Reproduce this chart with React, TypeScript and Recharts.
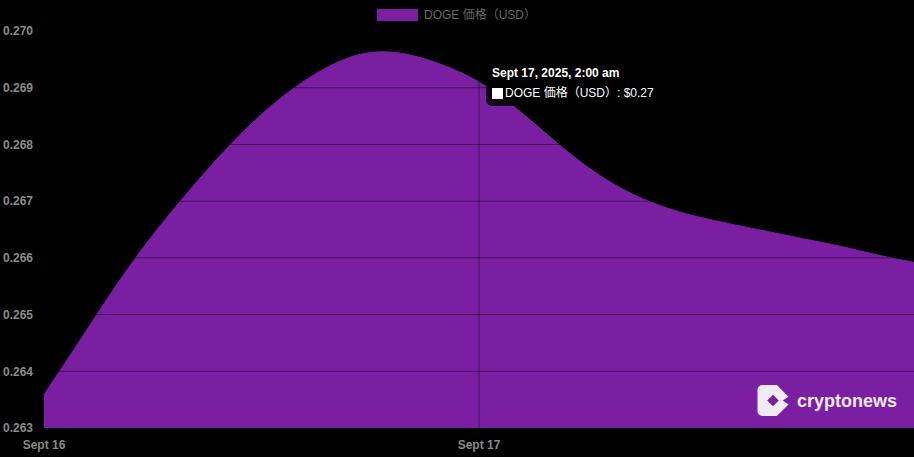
import React from 'react';
import { AreaChart, Area, XAxis, YAxis, Tooltip, ReferenceLine } from 'recharts';

// two-hourly DOGE price, Sept 16 02:00 -> Sept 18 02:00
const times = [
  'Sept 16, 2025, 2:00 am', 'Sept 16, 2025, 4:00 am', 'Sept 16, 2025, 6:00 am', 'Sept 16, 2025, 8:00 am',
  'Sept 16, 2025, 10:00 am', 'Sept 16, 2025, 12:00 pm', 'Sept 16, 2025, 2:00 pm', 'Sept 16, 2025, 4:00 pm',
  'Sept 16, 2025, 6:00 pm', 'Sept 16, 2025, 8:00 pm', 'Sept 16, 2025, 10:00 pm', 'Sept 17, 2025, 12:00 am',
  'Sept 17, 2025, 2:00 am', 'Sept 17, 2025, 4:00 am', 'Sept 17, 2025, 6:00 am', 'Sept 17, 2025, 8:00 am',
  'Sept 17, 2025, 10:00 am', 'Sept 17, 2025, 12:00 pm', 'Sept 17, 2025, 2:00 pm', 'Sept 17, 2025, 4:00 pm',
  'Sept 17, 2025, 6:00 pm', 'Sept 17, 2025, 8:00 pm', 'Sept 17, 2025, 10:00 pm', 'Sept 18, 2025, 12:00 am',
  'Sept 18, 2025, 2:00 am',
];

const prices = [
  0.26359, 0.26455, 0.26552, 0.2664, 0.26718, 0.2679, 0.26853, 0.26904,
  0.26942, 0.26962, 0.26959, 0.2694, 0.2691, 0.26865, 0.26811, 0.2676,
  0.2672, 0.26692, 0.26673, 0.26659, 0.26646, 0.26633, 0.2662, 0.26605,
  0.26592,
];

const yTicks = [0.263, 0.264, 0.265, 0.266, 0.267, 0.268, 0.269, 0.27];
const xTicks = ['Sept 16, 2025, 2:00 am', 'Sept 17, 2025, 2:00 am'];
const seriesName = 'DOGE 価格（USD）';

const data = times.map((t, i) => ({ time: t, price: prices[i] }));

const FONT = '"Liberation Sans", Arial, "Noto Sans CJK JP", sans-serif';
const PURPLE = '#7B1FA2';
const GRID = 'rgba(0,0,0,0.45)';

const TooltipBox = ({ active, payload, label }: any) => {
  if (!active || !payload || !payload.length) return null;
  return (
    <div
      style={{
        background: 'rgba(0,0,0,0.85)',
        borderRadius: 6,
        padding: '6px 10px 6px 6px',
        fontFamily: FONT,
        fontSize: 12,
        color: '#fff',
        lineHeight: '14px',
        whiteSpace: 'nowrap',
      }}
    >
      <div style={{ fontWeight: 'bold' }}>{label}</div>
      <div style={{ marginTop: 6, display: 'flex', alignItems: 'center' }}>
        <span style={{ display: 'inline-block', width: 11, height: 11, background: '#fff', marginRight: 2 }} />
        {`${seriesName}: $${payload[0].value.toFixed(2)}`}
      </div>
    </div>
  );
};

const App: React.FC = () => {
  return (
    <div style={{ position: 'absolute', left: 0, top: 0, width: 914, height: 457, background: '#000', fontFamily: FONT }}>
      <AreaChart width={914} height={457} data={data} margin={{ top: 31, right: 0, bottom: 0, left: 0 }}>
        <XAxis
          dataKey="time"
          ticks={xTicks}
          tickFormatter={(v: string) => v.split(',')[0]}
          axisLine={false}
          tickLine={false}
          tickSize={0}
          tickMargin={12}
          height={29}
          tick={{ fill: '#8a8a8a', fontSize: 12, fontWeight: 'bold', fontFamily: FONT }}
        />
        <YAxis
          domain={[0.263, 0.27]}
          ticks={yTicks}
          tickFormatter={(v: number) => v.toFixed(3)}
          axisLine={false}
          tickLine={false}
          tickSize={0}
          tickMargin={11}
          width={44}
          tick={{ fill: '#8a8a8a', fontSize: 12, fontWeight: 'bold', fontFamily: FONT }}
        />
        <Area
          type="natural"
          dataKey="price"
          name={seriesName}
          stroke={PURPLE}
          strokeWidth={1}
          fill={PURPLE}
          fillOpacity={1}
          dot={false}
          activeDot={false}
          isAnimationActive={false}
        />
        {yTicks.slice(1, 7).map((t) => (
          <ReferenceLine key={t} y={t} stroke={GRID} strokeWidth={1} />
        ))}
        <ReferenceLine x={xTicks[1]} stroke={GRID} strokeWidth={1} />
        <Tooltip
          content={<TooltipBox />}
          defaultIndex={12}
          active={true}
          cursor={false}
          position={{ x: 486, y: 60 }}
          isAnimationActive={false}
        />
      </AreaChart>

      {/* legend */}
      <div style={{ position: 'absolute', left: 377, top: 9, display: 'flex', alignItems: 'center' }}>
        <span style={{ display: 'inline-block', width: 41, height: 12, background: PURPLE, marginRight: 6 }} />
        <span style={{ fontSize: 12, color: '#666', lineHeight: '12px' }}>{seriesName}</span>
      </div>

      {/* watermark */}
      <div style={{ position: 'absolute', left: 757, top: 385, display: 'flex', alignItems: 'center' }}>
        <svg width={32} height={31} viewBox="0 0 32 32">
          <path
            fillRule="evenodd"
            fill="#f3eaf7"
            d="M5 0 H20 L32 12 L26 16 L32 20 L20 32 H5 A5 5 0 0 1 0 27 V5 A5 5 0 0 1 5 0 Z M16 10 L22 16 L16 22 L10 16 Z"
          />
        </svg>
        <span style={{ marginLeft: 8, fontSize: 18, fontWeight: 'bold', color: '#f3eaf7', lineHeight: '18px' }}>
          cryptonews
        </span>
      </div>
    </div>
  );
};

export default App;
